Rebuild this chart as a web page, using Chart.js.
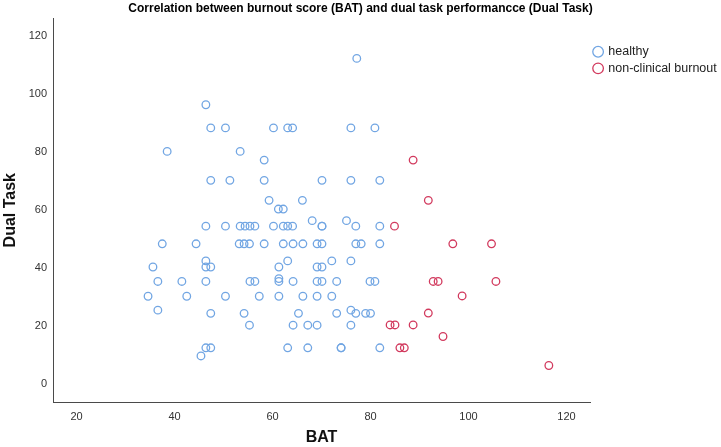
<!DOCTYPE html>
<html>
<head>
<meta charset="utf-8">
<script src="https://cdn.jsdelivr.net/npm/chart.js@4.4.1/dist/chart.umd.min.js"></script>
<style>
  html, body { margin: 0; padding: 0; background: #fff; }
  #wrap { width: 721px; height: 447px; }
</style>
</head>
<body>
<div id="wrap"><canvas id="scatterChart" width="721" height="447"></canvas></div>
<script>
// BAT (x) and Dual Task (y)
const healthyBAT = [
    77.2,
    46.4,
    47.4, 50.4, 60.2, 63.1, 64.1, 76.0, 80.9,
    38.5, 53.4,
    58.3,
    47.4, 51.3, 58.3, 70.1, 76.0, 81.9,
    59.3, 66.1,
    61.2, 62.2,
    68.1, 75.1,
    46.4, 50.4, 53.4, 54.4, 55.4, 56.4, 60.2, 62.2, 63.1, 64.1, 70.1, 70.1, 77.0, 81.9,
    37.5, 44.4, 53.2, 54.2, 55.3, 58.3, 62.2, 64.2, 66.2, 69.1, 70.1, 77.0, 78.1, 81.9,
    46.4, 63.1, 72.1, 76.0,
    35.6, 46.4, 47.4, 61.3, 69.1, 70.1,
    36.6, 41.5, 46.4, 55.4, 56.4, 61.3, 61.3, 64.2, 69.1, 70.1, 73.1, 79.9, 80.9,
    34.6, 42.5, 50.4, 57.3, 61.3, 66.2, 69.1, 72.1,
    36.6, 76.0,
    47.4, 54.2, 65.3, 73.1, 77.0, 79.0, 80.0,
    55.3, 64.2, 67.2, 69.1, 76.0,
    46.4, 47.4, 63.1, 67.2, 74.0, 74.0, 81.9,
    45.4
];
const healthyDual = [
    112.4,
    96.4,
    88.4, 88.4, 88.4, 88.4, 88.4, 88.4, 88.4,
    80.3, 80.3,
    77.3,
    70.3, 70.3, 70.3, 70.3, 70.3, 70.3,
    63.4, 63.4,
    60.4, 60.4,
    56.4, 56.4,
    54.5, 54.5, 54.5, 54.5, 54.5, 54.5, 54.5, 54.5, 54.5, 54.5, 54.5, 54.5, 54.5, 54.5,
    48.4, 48.4, 48.4, 48.4, 48.4, 48.4, 48.4, 48.4, 48.4, 48.4, 48.4, 48.4, 48.4, 48.4,
    42.5, 42.5, 42.5, 42.5,
    40.4, 40.4, 40.4, 40.4, 40.4, 40.4,
    35.4, 35.4, 35.4, 35.4, 35.4, 36.4, 35.4, 35.4, 35.4, 35.4, 35.4, 35.4, 35.4,
    30.3, 30.3, 30.3, 30.3, 30.3, 30.3, 30.3, 30.3,
    25.5, 25.5,
    24.4, 24.4, 24.4, 24.4, 24.4, 24.4, 24.4,
    20.3, 20.3, 20.3, 20.3, 20.3,
    12.5, 12.5, 12.5, 12.5, 12.5, 12.5, 12.5,
    9.7
];
const burnoutBAT = [88.7, 91.8, 84.9, 96.8, 104.7, 92.8, 93.8, 105.6, 98.7, 91.8, 84.0, 85.0, 88.7, 94.8, 86.0, 86.9, 116.4];
const burnoutDual = [77.3, 63.4, 54.5, 48.4, 48.4, 35.4, 35.4, 35.4, 30.4, 24.5, 20.4, 20.4, 20.4, 16.4, 12.5, 12.5, 6.4];

const groupNames = ['healthy', 'non-clinical burnout'];
const xTicks = [20, 40, 60, 80, 100, 120];
const yTicks = [0, 20, 40, 60, 80, 100, 120];

const toPoints = (xs, ys) => xs.map((x, i) => ({ x: x, y: ys[i] }));

const tickFont = { family: 'Liberation Sans, Arial, sans-serif', size: 11 };
const axisTitleFont = { family: 'Liberation Sans, Arial, sans-serif', size: 16, weight: 'bold' };

new Chart(document.getElementById('scatterChart'), {
    type: 'scatter',
    data: {
        datasets: [
            {
                label: groupNames[0],
                data: toPoints(healthyBAT, healthyDual),
                borderColor: '#72a6e3',
                backgroundColor: 'rgba(0,0,0,0)',
                pointRadius: 3.8,
                pointBorderWidth: 1.3
            },
            {
                label: groupNames[1],
                data: toPoints(burnoutBAT, burnoutDual),
                borderColor: '#d23a5e',
                backgroundColor: 'rgba(0,0,0,0)',
                pointRadius: 3.8,
                pointBorderWidth: 1.3
            }
        ]
    },
    options: {
        responsive: false,
        animation: false,
        devicePixelRatio: 1,
        events: [],
        layout: { padding: 0 },
        plugins: {
            title: {
                display: true,
                text: 'Correlation between burnout score (BAT) and dual task performancce (Dual Task)',
                color: '#000',
                font: { family: 'Liberation Sans, Arial, sans-serif', size: 12, weight: 'bold' },
                padding: { top: 1, bottom: 3 }
            },
            legend: {
                display: true,
                position: 'right',
                align: 'start',
                fullSize: false,
                maxWidth: 131,
                title: { display: true, text: '', font: { size: 10 }, padding: { top: 11, bottom: 0 } },
                labels: {
                    usePointStyle: true,
                    pointStyle: 'circle',
                    boxWidth: 8,
                    boxHeight: 7.5,
                    padding: 4.1,
                    color: '#222',
                    font: { family: 'Liberation Sans, Arial, sans-serif', size: 12.5 }
                }
            },
            tooltip: { enabled: false }
        },
        scales: {
            x: {
                type: 'linear',
                min: 15.2,
                max: 124.8,
                afterFit: s => { s.height = 45; },
                afterBuildTicks: s => { s.ticks = xTicks.map(v => ({ value: v })); },
                grid: { display: false, drawTicks: false },
                border: { display: true, color: '#4a4a4a', width: 1 },
                ticks: { padding: 8, color: '#333', font: tickFont, maxRotation: 0 },
                title: { display: true, text: 'BAT', color: '#111', font: axisTitleFont, padding: { top: 0, bottom: 0 } }
            },
            y: {
                type: 'linear',
                min: -6.2,
                max: 126.2,
                afterFit: s => { s.width = 53; },
                afterBuildTicks: s => { s.ticks = yTicks.map(v => ({ value: v })); },
                grid: { display: false, drawTicks: false },
                border: { display: true, color: '#4a4a4a', width: 1 },
                ticks: { padding: 6, color: '#333', font: tickFont },
                title: { display: true, text: 'Dual Task', color: '#111', font: axisTitleFont, padding: { top: 1, bottom: 0 } }
            }
        }
    }
});
</script>
</body>
</html>
